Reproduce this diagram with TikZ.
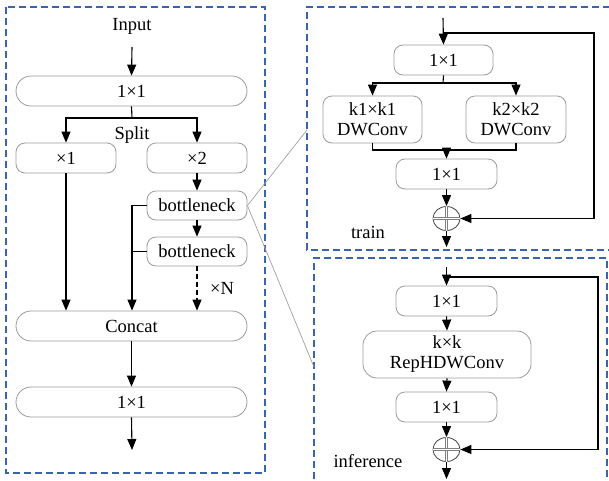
\documentclass[tikz,border=0pt]{standalone}
\usepackage{fontspec}
\setmainfont{Liberation Serif}
\usetikzlibrary{arrows.meta,shapes.geometric}
\definecolor{frameblue}{RGB}{58,100,176}
\definecolor{boxgray}{RGB}{155,155,155}
\definecolor{zoomgray}{RGB}{160,160,160}
\begin{document}
\begin{tikzpicture}[x=1pt,y=-1pt,
  lbl/.style={font=\fontsize{18.5}{20}\selectfont, inner sep=0pt},
  blk/.style={draw=boxgray, line width=0.8pt, rounded corners=9pt,
    minimum width=#1, minimum height=30pt, inner sep=0pt, align=center,
    font=\fontsize{18.5}{20}\selectfont},
  blk/.default=100pt,
  pill/.style={blk=231pt, rounded corners=15pt},
  tall/.style={blk=#1, minimum height=47pt},
  sumnode/.style={draw=black!75, line width=0.8pt, ellipse,
    minimum width=27pt, minimum height=24pt, inner sep=0pt},
  cross/.style={draw=black!50, line width=0.6pt, double=white, double distance=1.6pt},
  arr/.style={-{Triangle[length=11pt,width=9pt]}, line width=1.1pt},
  link/.style={line width=1.1pt},
  frame/.style={draw=frameblue, line width=1.2pt, dash pattern=on 7pt off 4pt},
  zoomline/.style={draw=zoomgray, line width=0.7pt}]
\useasboundingbox (0,0) rectangle (609,480);
\clip (0,0) rectangle (609,480);

% ---------- outer frames ----------
\draw[frame] (6,7) rectangle (265,473);
\draw[frame] (615,250) -- (307,250) -- (307,7) -- (615,7);
\draw[frame] (314,490) -- (314,258) -- (607,258) -- (607,490);

% ---------- C2f-style block ----------
\node[lbl] (input) at (132,26) {Input};
\coordinate (inputtail) at (132,47);
\node[pill] (in1) at (131.5,91) {1×1};
\node[blk] (x1) at (66,158) {×1};
\node[blk] (x2) at (197,158) {×2};
\node[blk, minimum height=29pt] (bn1) at (197,205.5) {bottleneck};
\node[blk, minimum height=29pt] (bn2) at (197,251.5) {bottleneck};
\node[pill] (concat) at (131.5,326) {Concat};
\node[pill] (out1) at (131.5,402) {1×1};
\coordinate (outtail) at (132,450);
\node[lbl] (splitlbl) at (132,135) {Split};
\node[lbl] (nlbl) at (222,288) {×N};

\coordinate (sp) at (132,118);
\coordinate (jn) at (132,205.5);
\draw[arr] (inputtail) -- (in1.north);
\draw[link] (in1.south) -- (sp);
\draw[arr] (sp) -| (x1.north);
\draw[arr] (sp) -| (x2.north);
\draw[arr] (x2.south) -- (bn1.north);
\draw[arr] (bn1.south) -- (bn2.north);
\draw[arr, dash pattern=on 5pt off 3pt] (bn2.south) -- (bn2.south |- concat.north);
\draw[arr] (x1.south) -- (x1.south |- concat.north);
\draw[arr] (bn1.west) -- (jn) -- (jn |- concat.north);
\draw[link] (bn2.west) -- (bn2.west -| jn);
\draw[arr] (concat.south) -- (out1.north);
\draw[arr] (out1.south) -- (outtail);

% ---------- zoom lines ----------
\coordinate (zt) at (307,130);
\coordinate (zb) at (314,367);
\draw[zoomline] (bn1.east) -- (zt);
\draw[zoomline] (bn1.east) -- (zb);

% ---------- train branch ----------
\node[blk=99pt] (t1) at (443.5,60) {1×1};
\node[tall=99pt] (k1) at (372.5,119.5) {k1×k1\\DWConv};
\node[tall=100pt] (k2) at (516,119.5) {k2×k2\\DWConv};
\node[blk=101pt] (t2) at (446.5,174) {1×1};
\node[sumnode] (s1) at (446.5,218.5) {};
\draw[cross] (s1.north) -- (s1.south);
\draw[cross] (s1.west) -- (s1.east);
\node[lbl] (trainlbl) at (368,232) {train};

\coordinate (tin) at (443,18);
\coordinate (tfb) at (443,33);
\coordinate (tr) at (594,33);
\coordinate (tsp) at (443,83);
\coordinate (tm) at (446.5,150);
\coordinate (tout) at (446.5,247);
\draw[arr] (tin) -- (t1.north);
\draw[arr] (tfb) -- (tr) |- (s1.east);
\draw[link] (t1.south) -- (tsp);
\draw[arr] (tsp) -| (k1.north);
\draw[arr] (tsp) -| (k2.north);
\draw[link] (k1.south) |- (tm) -| (k2.south);
\draw[arr] (tm) -- (t2.north);
\draw[arr] (t2.south) -- (s1.north);
\draw[arr] (s1.south) -- (tout);

% ---------- inference branch ----------
\node[blk=101pt] (b1) at (446.5,301) {1×1};
\node[tall=168pt, rounded corners=14pt] (kk) at (447,354.5) {k×k\\RepHDWConv};
\node[blk=101pt] (b2) at (446.5,407) {1×1};
\node[sumnode] (s2) at (446.5,449.5) {};
\draw[cross] (s2.north) -- (s2.south);
\draw[cross] (s2.west) -- (s2.east);
\node[lbl] (inflbl) at (368,461) {inference};

\coordinate (bin) at (446.5,267);
\coordinate (bfb) at (446.5,277);
\coordinate (br) at (598,277);
\coordinate (bout) at (446.5,479);
\draw[arr] (bin) -- (b1.north);
\draw[arr] (bfb) -- (br) |- (s2.east);
\draw[arr] (b1.south) -- (kk.north);
\draw[arr] (kk.south) -- (b2.north);
\draw[arr] (b2.south) -- (s2.north);
\draw[arr] (s2.south) -- (bout);
\end{tikzpicture}
\end{document}
